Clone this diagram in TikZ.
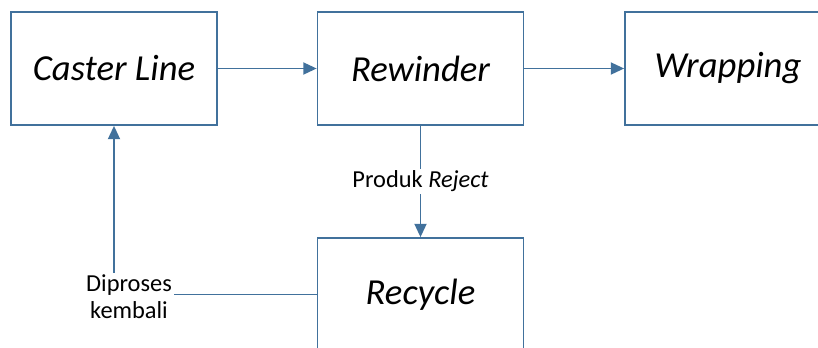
\documentclass[tikz,border=0pt]{standalone}
\usepackage{fontspec}
\setmainfont{Carlito}
\usetikzlibrary{arrows.meta}
\definecolor{flowblue}{RGB}{65,113,156}
\tikzset{
  procbox/.style={draw=flowblue, line width=1.3pt, minimum width=206*0.75pt, minimum height=113*0.75pt, inner sep=0pt, font=\fontsize{27.5}{32}\selectfont\itshape},
  flow/.style={draw=flowblue, line width=1.4pt},
  flowarrow/.style={flow, -{Triangle[length=10pt,width=9pt]}},
  flowlabel/.style={fill=white, inner sep=1.5pt, align=center, font=\fontsize{18.3}{20.5}\selectfont}
}
\begin{document}
\begin{tikzpicture}[x=0.75pt,y=0.75pt,yscale=-1,xscale=1]
        %set diagram size to the 818 x 347 frame
        \useasboundingbox (0,0) rectangle (818,347);
        \clip (0,0) rectangle (818,347);
        
        %Shape: Rectangle [caster]
        \node [procbox] (caster) at (114,68.5) {Caster Line};
        %Shape: Rectangle [rewinder]
        \node [procbox] (rewinder) at (420.5,68.5) {Rewinder};
        %Shape: Rectangle [wrapping]
        \node [procbox] (wrapping) at (728,68.5) {Wrapping};
        %Shape: Rectangle [recycle]
        \node [procbox] (recycle) at (420.5,294.5) {Recycle};
        
        %Straight Lines
        \draw [flowarrow] (caster.east) -- (rewinder.west);
        \draw [flowarrow] (rewinder.east) -- (wrapping.west);
        \draw [flowarrow] (rewinder.south) -- (recycle.north) node [midway, flowlabel] (reject) {Produk \textit{Reject}};
        
        % Text Node
        \node [flowlabel] (kembali) at (129,297) {Diproses\\kembali};
        %Straight Lines
        \draw [flow] (recycle.west) -- (recycle.west -| kembali.east);
        \draw [flowarrow] (kembali.north -| caster.south) -- (caster.south);
        
\end{tikzpicture}
\end{document}
